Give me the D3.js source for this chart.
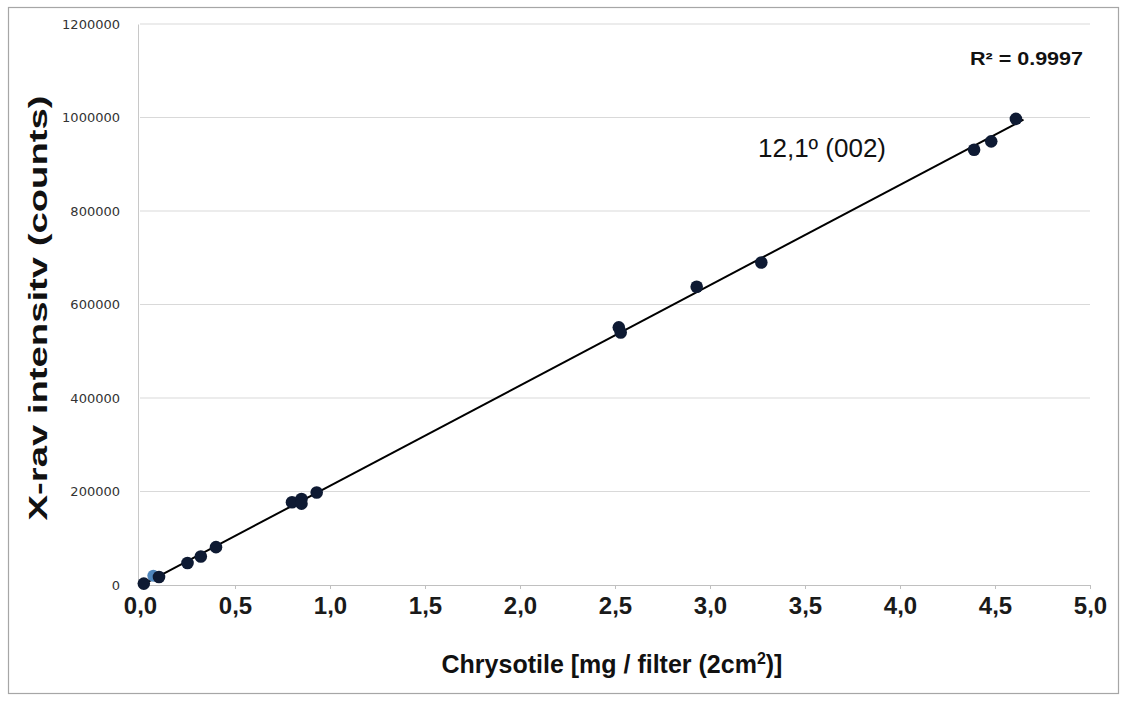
<!DOCTYPE html>
<html>
<head>
<meta charset="utf-8">
<script src="https://cdn.jsdelivr.net/npm/d3@7"></script>
<style>
  body { margin: 0; background: #fff; }
  svg { display: block; }
</style>
</head>
<body>
<svg id="chart"></svg>
<script>
// values
const chrysotile = [0.02, 0.10, 0.25, 0.32, 0.40, 0.80, 0.85, 0.85, 0.93, 2.52, 2.53, 2.93, 3.27, 4.39, 4.48, 4.61];
const intensity  = [3000, 17000, 47000, 61000, 81000, 177000, 184000, 174000, 198000, 551000, 540000, 638000, 690000, 931000, 949000, 997000];
// one pale point hidden behind the others near zero
const paleX = [0.07];
const paleY = [20000];
const xTicks = [0, 0.5, 1, 1.5, 2, 2.5, 3, 3.5, 4, 4.5, 5];
const yTicks = [0, 200000, 400000, 600000, 800000, 1000000, 1200000];
const fitRange = [0.0, 4.65];
const r2Label = "R\u00B2 = 0.9997";
const peakLabel = "12,1\u00BA (002)";

const W = 1127, H = 704;
const margin = {top: 24, right: 37, bottom: 119, left: 140};

const svg = d3.select("#chart").attr("width", W).attr("height", H);

// outer frame
svg.append("rect")
  .attr("x", 8.5).attr("y", 7.5)
  .attr("width", 1110).attr("height", 686)
  .attr("fill", "#fff")
  .attr("stroke", "#a6a6a6")
  .attr("stroke-width", 1.2);

var x = d3.scaleLinear().domain([0, 5]).range([margin.left, W - margin.right]);
var y = d3.scaleLinear().domain([0, 1200000]).range([H - margin.bottom, margin.top]);

// horizontal grid
svg.append("g")
  .selectAll("line")
  .data(yTicks.slice(1))
  .enter()
  .append("line")
  .attr("x1", x(0)).attr("x2", x(5))
  .attr("y1", d => y(d)).attr("y2", d => y(d))
  .attr("stroke", "#d9d9d9")
  .attr("stroke-width", 1);

// y axis
var gY = svg.append("g")
  .attr("transform", "translate(" + (x(0) - 2) + ",0)")
  .call(d3.axisLeft(y).tickValues(yTicks).tickSize(0).tickPadding(18).tickFormat(d3.format("d")));
gY.select(".domain").attr("stroke", "#c8c8c8");
gY.selectAll(".tick text")
  .attr("font-family", "DejaVu Sans")
  .attr("font-size", 13)
  .attr("fill", "#333");

// x axis
var gX = svg.append("g")
  .attr("transform", "translate(0," + y(0) + ")")
  .call(d3.axisBottom(x).tickValues(xTicks).tickSize(4).tickPadding(8)
    .tickFormat(d => d3.format(".1f")(d).replace(".", ",")));
gX.select(".domain").attr("stroke", "#c0c0c0");
gX.selectAll(".tick line").attr("stroke", "#c0c0c0");
gX.selectAll(".tick text")
  .attr("font-family", "Liberation Sans, Arial, sans-serif")
  .attr("font-weight", "bold")
  .attr("font-size", 24)
  .attr("fill", "#1a1a1a");

// least squares trend line through the points
var n = chrysotile.length;
var mx = d3.mean(chrysotile), my = d3.mean(intensity);
var sxy = d3.sum(chrysotile, (v, i) => (v - mx) * (intensity[i] - my));
var sxx = d3.sum(chrysotile, v => (v - mx) * (v - mx));
var slope = sxy / sxx, icpt = my - slope * mx;

svg.append("line")
  .attr("x1", x(fitRange[0])).attr("y1", y(icpt + slope * fitRange[0]))
  .attr("x2", x(fitRange[1])).attr("y2", y(icpt + slope * fitRange[1]))
  .attr("stroke", "#000")
  .attr("stroke-width", 2);

// points
svg.append("g")
  .selectAll("circle")
  .data(paleX.map((v, i) => [v, paleY[i]]))
  .enter()
  .append("circle")
  .attr("cx", d => x(d[0])).attr("cy", d => y(d[1]))
  .attr("r", 6)
  .attr("fill", "#4f86bd");

svg.append("g")
  .selectAll("circle")
  .data(chrysotile.map((v, i) => [v, intensity[i]]))
  .enter()
  .append("circle")
  .attr("cx", d => x(d[0])).attr("cy", d => y(d[1]))
  .attr("r", 6.3)
  .attr("fill", "#0e1a33");

// annotations
svg.append("text")
  .attr("x", 970).attr("y", 65)
  .attr("font-family", "Liberation Sans, Arial, sans-serif")
  .attr("font-weight", "bold")
  .attr("font-size", 18)
  .attr("textLength", 113)
  .attr("lengthAdjust", "spacingAndGlyphs")
  .attr("fill", "#111")
  .text(r2Label);

svg.append("text")
  .attr("x", 758).attr("y", 157)
  .attr("font-family", "Liberation Sans, Arial, sans-serif")
  .attr("font-size", 26)
  .attr("fill", "#111")
  .text(peakLabel);

// axis titles
svg.append("text")
  .attr("transform", "translate(47,308) rotate(-90)")
  .attr("text-anchor", "middle")
  .attr("font-family", "Liberation Sans, Arial, sans-serif")
  .attr("font-weight", "bold")
  .attr("font-size", 25)
  .attr("textLength", 425)
  .attr("lengthAdjust", "spacingAndGlyphs")
  .attr("fill", "#111")
  .text("X-rav intensitv (counts)");

var xt = svg.append("text")
  .attr("x", 612).attr("y", 673)
  .attr("text-anchor", "middle")
  .attr("font-family", "Liberation Sans, Arial, sans-serif")
  .attr("font-weight", "bold")
  .attr("font-size", 25)
  .attr("fill", "#111");
xt.append("tspan").text("Chrysotile [mg / filter (2cm");
xt.append("tspan").attr("dy", -9).attr("font-size", 16).text("2");
xt.append("tspan").attr("dy", 9).text(")]");
</script>
</body>
</html>
